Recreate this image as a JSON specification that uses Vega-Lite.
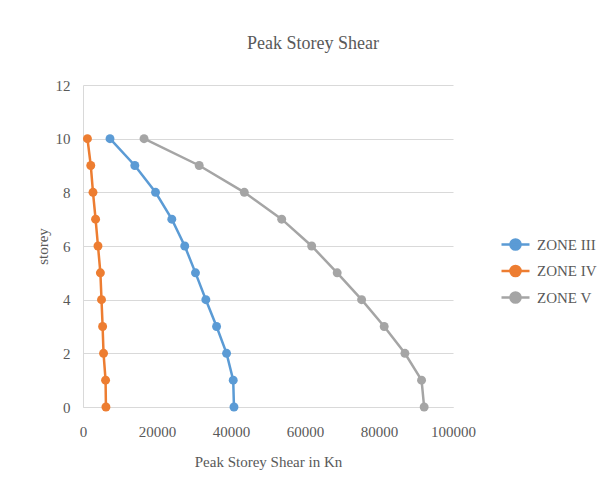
{
  "$schema": "https://vega.github.io/schema/vega-lite/v6.json",
  "width": 370,
  "height": 322,
  "autosize": "none",
  "padding": {"left": 83, "top": 85, "right": 160, "bottom": 89},
  "background": "white",
  "title": {
    "text": "Peak Storey Shear",
    "font": "Liberation Serif",
    "fontSize": 18,
    "fontWeight": "normal",
    "color": "#595959",
    "anchor": "middle",
    "dx": 45,
    "offset": 25
  },
  "config": {
    "view": {"stroke": null},
    "axis": {
      "labelFont": "Liberation Serif",
      "labelFontSize": 15,
      "labelColor": "#595959",
      "titleFont": "Liberation Serif",
      "titleFontSize": 15,
      "titleFontWeight": "normal",
      "titleColor": "#595959",
      "gridColor": "#d9d9d9",
      "gridWidth": 1,
      "domain": true,
      "domainColor": "#d9d9d9",
      "ticks": false,
      "labelFlush": false
    }
  },
  "data": {
    "values": [
      {"zone": "ZONE III", "storey": 10, "shear": 7300},
      {"zone": "ZONE III", "storey": 9, "shear": 14000},
      {"zone": "ZONE III", "storey": 8, "shear": 19600},
      {"zone": "ZONE III", "storey": 7, "shear": 24000},
      {"zone": "ZONE III", "storey": 6, "shear": 27500},
      {"zone": "ZONE III", "storey": 5, "shear": 30400},
      {"zone": "ZONE III", "storey": 4, "shear": 33200},
      {"zone": "ZONE III", "storey": 3, "shear": 36100},
      {"zone": "ZONE III", "storey": 2, "shear": 38800},
      {"zone": "ZONE III", "storey": 1, "shear": 40600},
      {"zone": "ZONE III", "storey": 0, "shear": 40800},
      {"zone": "ZONE IV", "storey": 10, "shear": 1200},
      {"zone": "ZONE IV", "storey": 9, "shear": 2100},
      {"zone": "ZONE IV", "storey": 8, "shear": 2700},
      {"zone": "ZONE IV", "storey": 7, "shear": 3400},
      {"zone": "ZONE IV", "storey": 6, "shear": 4050},
      {"zone": "ZONE IV", "storey": 5, "shear": 4700},
      {"zone": "ZONE IV", "storey": 4, "shear": 5000},
      {"zone": "ZONE IV", "storey": 3, "shear": 5300},
      {"zone": "ZONE IV", "storey": 2, "shear": 5550},
      {"zone": "ZONE IV", "storey": 1, "shear": 6100},
      {"zone": "ZONE IV", "storey": 0, "shear": 6200},
      {"zone": "ZONE V", "storey": 10, "shear": 16500},
      {"zone": "ZONE V", "storey": 9, "shear": 31400},
      {"zone": "ZONE V", "storey": 8, "shear": 43600},
      {"zone": "ZONE V", "storey": 7, "shear": 53700},
      {"zone": "ZONE V", "storey": 6, "shear": 61800},
      {"zone": "ZONE V", "storey": 5, "shear": 68700},
      {"zone": "ZONE V", "storey": 4, "shear": 75300},
      {"zone": "ZONE V", "storey": 3, "shear": 81400},
      {"zone": "ZONE V", "storey": 2, "shear": 87000},
      {"zone": "ZONE V", "storey": 1, "shear": 91500},
      {"zone": "ZONE V", "storey": 0, "shear": 92200}
    ]
  },
  "encoding": {
    "x": {
      "field": "shear",
      "type": "quantitative",
      "scale": {"domain": [0, 100000], "nice": false},
      "axis": {"values": [0, 20000, 40000, 60000, 80000, 100000], "format": "d", "grid": false, "labelPadding": 17, "title": "Peak Storey Shear in Kn", "titlePadding": 15}
    },
    "y": {
      "field": "storey",
      "type": "quantitative",
      "scale": {"domain": [0, 12], "nice": false},
      "axis": {"values": [0, 2, 4, 6, 8, 10, 12], "grid": true, "labelPadding": 13, "title": "storey", "titlePadding": 5}
    },
    "color": {
      "field": "zone",
      "type": "nominal",
      "scale": {"domain": ["ZONE III", "ZONE IV", "ZONE V"], "range": ["#5b9bd5", "#ed7d31", "#a5a5a5"]},
      "legend": {
        "title": null,
        "orient": "none",
        "legendX": 417,
        "legendY": 144,
        "symbolType": "M-1,0H1M0.36,0A0.36,0.36,0,1,1,-0.36,0A0.36,0.36,0,1,1,0.36,0Z",
        "symbolSize": 784,
        "symbolStrokeWidth": 2.5,
        "rowPadding": 0.5,
        "labelFont": "Liberation Serif",
        "labelFontSize": 15,
        "labelColor": "#595959",
        "labelOffset": 6
      }
    }
  },
  "layer": [
    {
      "mark": {"type": "line", "strokeWidth": 2.5},
      "encoding": {"order": {"field": "storey", "type": "quantitative"}}
    },
    {
      "mark": {"type": "point", "filled": true, "size": 80, "opacity": 1}
    }
  ]
}
